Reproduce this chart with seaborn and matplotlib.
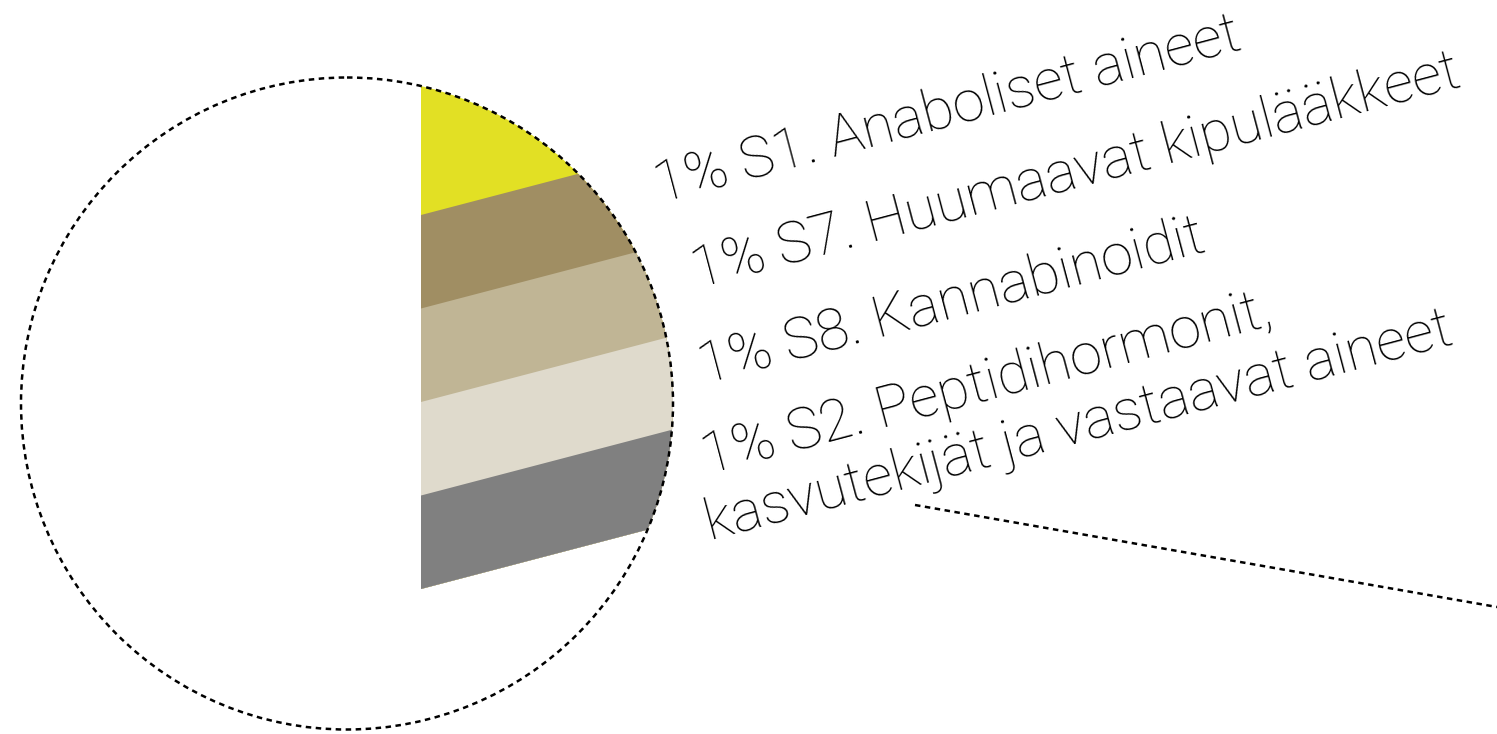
# Suurennettu näkymä piirakan pienimmistä osuuksista (kieltolistan aineryhmät)

import matplotlib
matplotlib.use("Agg")
import matplotlib.pyplot as plt
from matplotlib.patches import Circle
from matplotlib.transforms import Affine2D
import pandas as pd
import seaborn as sns


# data: ylhäältä alas samassa järjestyksessä kuin kaistat
BANDS = ["S1", "S7", "S8", "S2", "muu"]
SHARES = [1, 1, 1, 1, 1]
BAND_COLORS = ["#e2e024", "#a08e63", "#c0b595", "#dfdacc", "#808080"]
LABEL_LINES = [
    ["1% S1. Anaboliset aineet"],
    ["1% S7. Huumaavat kipulääkkeet"],
    ["1% S8. Kannabinoidit"],
    ["1% S2. Peptidihormonit,", "kasvutekijät ja vastaavat aineet"],
    [],
]

# asettelu (kuvapikseleinä)
W, H = 1497, 734
CENTER = (347, 403.5)
RADIUS = 326
BAND_LEFT = 421
BAND_BOTTOM = 589
BAND_STEP = 93.5
SLOPE = 0.262
LABEL_POS = [
    [(660, 204)],
    [(697, 288)],
    [(704, 385)],
    [(707, 474), (710, 540)],
    [],
]
TEXT_ANGLE = 14.8
FONT = ["Roboto", "DejaVu Sans"]

sns.set_theme(style="white")
plt.rcParams["font.family"] = FONT

fig = plt.figure(figsize=(W / 100, H / 100), dpi=100)
ax_bar = fig.add_axes([0, 0, 1, 1])
ax = fig.add_axes([0, 0, 1, 1])
ax.set_facecolor("none")
ax.set_xlim(0, W)
ax.set_ylim(H, 0)
ax.set_axis_off()

# pinottu palkki: kumulatiiviset osuudet alhaalta ylös, piirretään korkein ensin
df = pd.DataFrame({"band": BANDS, "share": SHARES, "color": BAND_COLORS})
df["top"] = df["share"][::-1].cumsum()[::-1]
df["grp"] = "osuus"
sns.barplot(
    data=df,
    x="grp",
    y="top",
    hue="band",
    hue_order=BANDS,
    palette=BAND_COLORS,
    dodge=False,
    width=1,
    legend=False,
    saturation=1,
    ax=ax_bar,
)
ax_bar.set_axis_off()

# palkin koordinaatit -> vinoutettu kaista kuvassa
span = 420
shear = Affine2D(
    [
        [span, 0, BAND_LEFT + 0.5 * span],
        [-SLOPE * span, -BAND_STEP, BAND_BOTTOM - 0.5 * SLOPE * span],
        [0, 0, 1],
    ]
)
clip = Circle(CENTER, RADIUS, transform=ax.transData)
bars = sorted(ax_bar.patches, key=lambda p: -p.get_height())
for i, patch in enumerate(bars):
    if i == 0:
        # ylin kaista jatkuu ympyrän reunaan asti
        patch.set_height(patch.get_height() + 1)
    patch.set_edgecolor("none")
    patch.set_linewidth(0)
    patch.set_transform(shear + ax.transData)
    patch.set_clip_path(clip)

# katkoviivaympyrä ja yhdysviiva
ax.add_patch(
    Circle(
        CENTER,
        RADIUS,
        fill=False,
        edgecolor="black",
        linewidth=1.8,
        linestyle=(0, (2.2, 1.8)),
        zorder=5,
    )
)
ax.plot(
    [915, W],
    [505, 607],
    color="black",
    linewidth=1.8,
    linestyle=(0, (2.2, 1.8)),
    zorder=5,
)

for lines, positions in zip(LABEL_LINES, LABEL_POS):
    for text, (x, y) in zip(lines, positions):
        ax.text(
            x,
            y,
            text,
            rotation=TEXT_ANGLE,
            rotation_mode="anchor",
            ha="left",
            va="baseline",
            fontsize=41.5,
            fontweight="light",
            color="black",
            family=FONT,
        )

fig.savefig("out.png", dpi=100)
plt.close(fig)
